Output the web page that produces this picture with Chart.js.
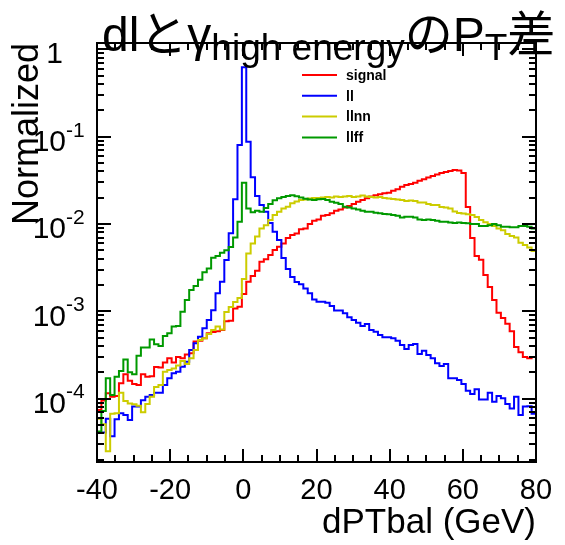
<!DOCTYPE html>
<html>
<head>
<meta charset="utf-8">
<script src="https://cdn.jsdelivr.net/npm/chart.js@4.4.0/dist/chart.umd.min.js"></script>
<style>
  html, body { margin: 0; padding: 0; background: #fff; }
</style>
</head>
<body>
<canvas id="myChart" width="565" height="545"></canvas>
<script>
// Histogram binning: 100 bins of 1.2 GeV from -40 to 80
const binLow = -40;
const binWidth = 1.2;

// Normalized bin contents
const signal = [
  7.4e-5, 9.5e-5, 1.15e-4, 1.05e-4, 1.07e-4, 1.5e-4, 1.9e-4, 1.6e-4, 1.47e-4, 1.43e-4,
  1.9e-4, 1.78e-4, 1.8e-4, 2.3e-4, 2.28e-4, 2.6e-4, 2.9e-4, 2.6e-4, 3.0e-4, 2.9e-4,
  3.2e-4, 3.3e-4, 4.5e-4, 4.6e-4, 4.9e-4, 5.6e-4, 5.8e-4, 5.9e-4, 6.1e-4, 7.7e-4,
  7.8e-4, 1.08e-3, 1.13e-3, 1.58e-3, 2.18e-3, 2.54e-3, 2.92e-3, 3.7e-3, 3.94e-3, 4.41e-3,
  5.04e-3, 5.5e-3, 6.0e-3, 6.9e-3, 7.5e-3, 7.8e-3, 8.7e-3, 8.9e-3, 1.0e-2, 1.09e-2,
  1.13e-2, 1.24e-2, 1.27e-2, 1.33e-2, 1.42e-2, 1.47e-2, 1.55e-2, 1.61e-2, 1.7e-2, 1.8e-2,
  1.88e-2, 1.97e-2, 2.06e-2, 2.13e-2, 2.19e-2, 2.25e-2, 2.28e-2, 2.41e-2, 2.5e-2, 2.68e-2,
  2.8e-2, 2.87e-2, 2.97e-2, 3.13e-2, 3.25e-2, 3.41e-2, 3.55e-2, 3.69e-2, 3.84e-2, 3.94e-2,
  4.05e-2, 4.16e-2, 4.1e-2, 3.84e-2, 1.57e-2, 6.9e-3, 4.3e-3, 3.9e-3, 2.6e-3, 1.9e-3,
  1.35e-3, 9.6e-4, 8.4e-4, 7.2e-4, 5.9e-4, 3.9e-4, 3.4e-4, 3.0e-4, 2.9e-4, 3.0e-4
];
const ll = [
  4.1e-5, 4.1e-5, 5.9e-5, 3.7e-5, 5.8e-5, 6.8e-5, 6.5e-5, 5.7e-5, 8.1e-5, 8.1e-5,
  9.6e-5, 1.05e-4, 1.1e-4, 1.17e-4, 1.17e-4, 1.43e-4, 1.71e-4, 1.95e-4, 2.03e-4, 2.32e-4,
  2.65e-4, 3.6e-4, 4.3e-4, 5.12e-4, 6.38e-4, 7.94e-4, 1.03e-3, 1.61e-3, 2.18e-3, 3.87e-3,
  7.82e-3, 1.92e-2, 8.04e-2, 0.624, 8.77e-2, 3.43e-2, 2.09e-2, 1.65e-2, 1.38e-2, 1.03e-2,
  8.16e-3, 6.56e-3, 4.08e-3, 3.05e-3, 2.47e-3, 2.17e-3, 2.04e-3, 1.83e-3, 1.61e-3, 1.37e-3,
  1.29e-3, 1.29e-3, 1.25e-3, 1.15e-3, 1.02e-3, 1.02e-3, 9.48e-4, 8.53e-4, 7.94e-4, 7.4e-4,
  6.79e-4, 7.15e-4, 6.1e-4, 5.84e-4, 5.35e-4, 5.04e-4, 5.04e-4, 4.91e-4, 4.61e-4, 4.11e-4,
  3.7e-4, 4.11e-4, 4.22e-4, 3.24e-4, 3.54e-4, 3.15e-4, 2.9e-4, 2.54e-4, 2.36e-4, 2.49e-4,
  1.71e-4, 1.71e-4, 1.63e-4, 1.47e-4, 1.23e-4, 1.13e-4, 1.28e-4, 9.8e-5, 9.8e-5, 1.17e-4,
  9.2e-5, 1.07e-4, 1.01e-4, 8.7e-5, 7.7e-5, 1.05e-4, 6.5e-5, 8.1e-5, 8.2e-5, 6.7e-5
];
const llnn = [
  5.9e-5, 5.1e-5, 2.5e-5, 6.7e-5, 6.8e-5, 1.17e-4, 9.4e-5, 8.8e-5, 8.6e-5, 8.3e-5,
  7.0e-5, 8.7e-5, 1.05e-4, 1.36e-4, 1.43e-4, 2.03e-4, 2.13e-4, 2.22e-4, 2.4e-4, 2.7e-4,
  2.5e-4, 2.9e-4, 3.6e-4, 4.7e-4, 4.9e-4, 5.5e-4, 6.1e-4, 6.7e-4, 6.2e-4, 9.8e-4,
  1.12e-3, 1.28e-3, 1.42e-3, 2.34e-3, 4.6e-3, 6.0e-3, 7.2e-3, 8.9e-3, 9.7e-3, 1.11e-2,
  1.27e-2, 1.38e-2, 1.51e-2, 1.58e-2, 1.73e-2, 1.81e-2, 1.88e-2, 1.91e-2, 1.96e-2, 1.98e-2,
  1.98e-2, 2.01e-2, 2.04e-2, 2.01e-2, 2.07e-2, 2.04e-2, 2.07e-2, 2.09e-2, 2.04e-2, 2.07e-2,
  2.12e-2, 2.07e-2, 2.04e-2, 2.01e-2, 2.04e-2, 1.98e-2, 1.96e-2, 1.93e-2, 1.91e-2, 1.88e-2,
  1.83e-2, 1.86e-2, 1.83e-2, 1.76e-2, 1.76e-2, 1.7e-2, 1.65e-2, 1.65e-2, 1.57e-2, 1.55e-2,
  1.51e-2, 1.39e-2, 1.34e-2, 1.32e-2, 1.29e-2, 1.27e-2, 1.2e-2, 1.11e-2, 1.05e-2, 1.0e-2,
  9.5e-3, 8.9e-3, 8.5e-3, 7.7e-3, 7.3e-3, 7.0e-3, 6.1e-3, 5.75e-3, 5.4e-3, 4.9e-3
];
const llff = [
  4.2e-5, 7.2e-5, 1.71e-4, 1.1e-4, 1.78e-4, 2.07e-4, 2.8e-4, 2.0e-4, 1.9e-4, 3.1e-4,
  3.85e-4, 3.85e-4, 4.75e-4, 4.2e-4, 4.0e-4, 5.2e-4, 5.6e-4, 6.7e-4, 6.8e-4, 9.9e-4,
  1.35e-3, 1.75e-3, 1.95e-3, 2.3e-3, 2.8e-3, 3.1e-3, 4.1e-3, 4.3e-3, 4.7e-3, 5.0e-3,
  5.45e-3, 7.0e-3, 1.06e-2, 2.97e-2, 1.51e-2, 1.36e-2, 1.42e-2, 1.38e-2, 1.53e-2, 1.7e-2,
  1.87e-2, 1.97e-2, 2.04e-2, 2.09e-2, 2.13e-2, 2.08e-2, 2.01e-2, 1.95e-2, 1.91e-2, 1.88e-2,
  1.92e-2, 1.93e-2, 1.88e-2, 1.8e-2, 1.75e-2, 1.7e-2, 1.58e-2, 1.55e-2, 1.51e-2, 1.47e-2,
  1.42e-2, 1.38e-2, 1.38e-2, 1.35e-2, 1.33e-2, 1.3e-2, 1.29e-2, 1.27e-2, 1.24e-2, 1.19e-2,
  1.21e-2, 1.21e-2, 1.19e-2, 1.13e-2, 1.11e-2, 1.13e-2, 1.11e-2, 1.09e-2, 1.06e-2, 1.06e-2,
  1.04e-2, 1.03e-2, 1.04e-2, 1.03e-2, 1.02e-2, 1.0e-2, 1.0e-2, 9.5e-3, 9.5e-3, 9.7e-3,
  1.0e-2, 9.7e-3, 9.3e-3, 9.3e-3, 9.2e-3, 9.2e-3, 9.5e-3, 9.5e-3, 9.3e-3, 8.9e-3
];

const seriesNames = ['signal', 'll', 'llnn', 'llff'];
const seriesColors = ['#ff0000', '#0000ff', '#cccc00', '#009900'];

// Axis ranges and tick labels
const xMin = -40, xMax = 80;
const yMin = 1.88e-5, yMax = 1.184;
const xTickLabels = [-40, -20, 0, 20, 40, 60, 80];
const yTickExponents = [0, -1, -2, -3, -4];

const FONT = '"Liberation Sans", Arial, Helvetica, sans-serif';
const CJK = '"Liberation Sans", "Noto Sans CJK JP", sans-serif';

// Turn bin contents into a step outline (starts from the axis floor like ROOT)
const toSteps = (values) => {
    const pts = [{ x: binLow, y: yMin }];
    values.forEach((v, i) => pts.push({ x: binLow + i * binWidth, y: v }));
    pts.push({ x: binLow + values.length * binWidth, y: values[values.length - 1] });
    return pts;
};

// Frame with inward ticks on all four sides, y labels with exponents, legend, title
const rootDecor = {
    id: 'rootDecor',
    afterDatasetsDraw(chart) {
        const { ctx, chartArea: a, scales: { x, y } } = chart;
        ctx.save();
        ctx.strokeStyle = '#000';
        ctx.lineWidth = 2;
        ctx.strokeRect(a.left, a.top, a.right - a.left, a.bottom - a.top);

        ctx.beginPath();
        for (let v = xMin; v <= xMax; v += 5) {
            const px = Math.round(x.getPixelForValue(v));
            const len = (v % 20 === 0) ? 13 : 7;
            ctx.moveTo(px, a.bottom); ctx.lineTo(px, a.bottom - len);
            ctx.moveTo(px, a.top); ctx.lineTo(px, a.top + len);
        }
        for (let e = -5; e <= 0; e++) {
            for (let m = 1; m <= 9; m++) {
                const v = m * Math.pow(10, e);
                if (v < yMin || v > yMax) continue;
                const py = Math.round(y.getPixelForValue(v));
                const len = (m === 1) ? 14 : 7;
                ctx.moveTo(a.left, py); ctx.lineTo(a.left + len, py);
                ctx.moveTo(a.right, py); ctx.lineTo(a.right - len, py);
            }
        }
        ctx.stroke();

        // y tick labels: 1, 10^-1 ...
        ctx.fillStyle = '#000';
        ctx.textBaseline = 'middle';
        yTickExponents.forEach((e) => {
            const py = y.getPixelForValue(Math.pow(10, e));
            if (e === 0) {
                ctx.font = '30px ' + FONT;
                ctx.textAlign = 'right';
                ctx.fillText('1', 63, py + 5);
            } else {
                ctx.font = '30px ' + FONT;
                ctx.textAlign = 'right';
                ctx.fillText('10', 66, py + 6);
                ctx.font = '21px ' + FONT;
                ctx.textAlign = 'left';
                ctx.fillText(String(e), 66, py - 6);
            }
        });

        // legend
        ctx.font = 'bold 14px ' + FONT;
        ctx.textAlign = 'left';
        seriesNames.forEach((name, i) => {
            const ly = 75 + i * 20.8;
            ctx.strokeStyle = seriesColors[i];
            ctx.lineWidth = 2;
            ctx.beginPath();
            ctx.moveTo(302, ly); ctx.lineTo(337, ly);
            ctx.stroke();
            ctx.fillStyle = '#000';
            ctx.fillText(name, 346, ly + 1);
        });

        // title with subscripts
        const pieces = [
            { t: 'dlとγ', size: 48, dy: 0 },
            { t: 'high energy', size: 37, dy: 9 },
            { t: 'のP', size: 48, dy: 0 },
            { t: 'T', size: 37, dy: 9 },
            { t: '差', size: 48, dy: 0 }
        ];
        let tx = 102;
        const base = 51;
        ctx.textBaseline = 'alphabetic';
        ctx.fillStyle = '#000';
        pieces.forEach((p) => {
            ctx.font = p.size + 'px ' + CJK;
            ctx.fillText(p.t, tx, base + p.dy);
            tx += ctx.measureText(p.t).width;
        });
        ctx.restore();
    }
};

const ctx = document.getElementById('myChart').getContext('2d');
const chart = new Chart(ctx, {
    type: 'line',
    data: {
        datasets: [signal, ll, llnn, llff].map((vals, i) => ({
            label: seriesNames[i],
            data: toSteps(vals),
            borderColor: seriesColors[i],
            backgroundColor: seriesColors[i],
            borderWidth: 2,
            stepped: 'before',
            pointRadius: 0,
            fill: false,
            order: 4 - i
        }))
    },
    options: {
        responsive: false,
        animation: false,
        layout: { padding: { top: 43, right: 29, left: 0, bottom: 0 } },
        plugins: {
            legend: { display: false },
            tooltip: { enabled: false },
            title: { display: false }
        },
        scales: {
            x: {
                type: 'linear',
                min: xMin,
                max: xMax,
                afterFit: (s) => { s.height = 83; },
                afterBuildTicks: (s) => { s.ticks = xTickLabels.map((v) => ({ value: v })); },
                grid: { display: false, drawTicks: false },
                border: { display: false },
                ticks: {
                    color: '#000',
                    padding: 12,
                    maxRotation: 0,
                    autoSkip: false,
                    font: { family: FONT, size: 29 }
                },
                title: {
                    display: true,
                    text: 'dPTbal (GeV)',
                    align: 'end',
                    color: '#000',
                    padding: { top: 0, bottom: 1 },
                    font: { family: FONT, size: 35 }
                }
            },
            y: {
                type: 'logarithmic',
                min: yMin,
                max: yMax,
                afterFit: (s) => { s.width = 97; },
                grid: { display: false, drawTicks: false },
                border: { display: false },
                ticks: { display: false },
                title: {
                    display: true,
                    text: 'Normalized',
                    align: 'end',
                    color: '#000',
                    padding: { top: 6, bottom: 0 },
                    font: { family: FONT, size: 36 }
                }
            }
        }
    },
    plugins: [rootDecor]
});
</script>
</body>
</html>
